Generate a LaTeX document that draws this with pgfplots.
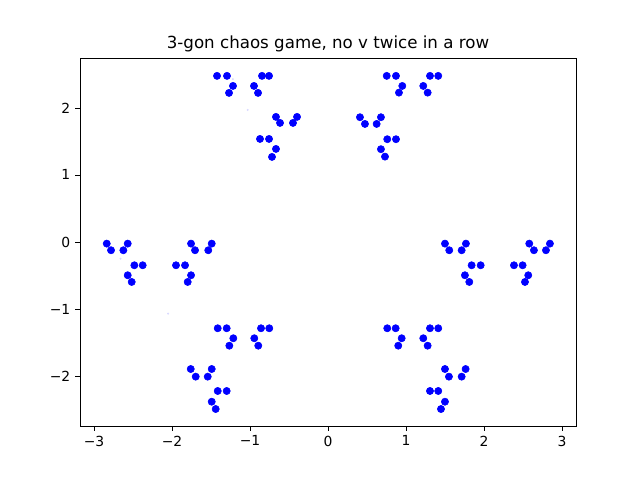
\documentclass[border=0pt]{standalone}
\usepackage{pgfplots}
\pgfplotsset{compat=1.18}
\usepackage{fontspec}
\setmainfont{DejaVu Sans}
\begin{document}
\begin{tikzpicture}
\useasboundingbox (-57.6pt,-38.9pt) rectangle (403.2pt,306.7pt);
\begin{axis}[
  at={(0,0)}, anchor=south west, scale only axis,
  width=357.1pt, height=265pt,
  xmin=-3.18, xmax=3.18, ymin=-2.746, ymax=2.746,
  xtick={-3,-2,-1,0,1,2,3}, ytick={-2,-1,0,1,2},
  xticklabels={−3,−2,−1,0,1,2,3}, yticklabels={−2,−1,0,1,2},
  tick align=outside, tick style={black}, major tick length=3.5pt,
  xtick pos=bottom, ytick pos=left,
  ticklabel style={font=\fontsize{10}{12}\selectfont},
  title={3-gon chaos game, no v twice in a row},
  title style={font=\fontsize{12}{14}\selectfont, yshift=-5pt},
]
\addplot[only marks, mark=*, mark size=2.6pt, color=blue] coordinates {
(-1.423,2.478)(-1.295,2.478)(-1.218,2.328)(-1.269,2.224)
(-0.846,2.478)(-0.756,2.478)(-0.949,2.328)(-0.897,2.224)
(-0.667,1.866)(-0.615,1.776)(-0.397,1.866)(-0.449,1.776)
(-0.872,1.537)(-0.756,1.537)(-0.667,1.388)(-0.718,1.269)
(0.753,2.478)(0.872,2.478)(0.953,2.328)(0.910,2.228)
(1.308,2.478)(1.414,2.478)(1.222,2.328)(1.278,2.228)
(0.410,1.861)(0.474,1.761)(0.679,1.861)(0.624,1.761)
(0.760,1.533)(0.872,1.533)(0.679,1.384)(0.731,1.273)
(-2.837,-0.025)(-2.782,-0.124)(-2.568,-0.025)(-2.624,-0.124)
(-2.483,-0.348)(-2.376,-0.348)(-2.568,-0.497)(-2.517,-0.597)
(-1.756,-0.025)(-1.491,-0.025)(-1.705,-0.124)(-1.535,-0.124)
(-1.949,-0.348)(-1.833,-0.348)(-1.756,-0.497)(-1.799,-0.597)
(1.500,-0.025)(1.555,-0.124)(1.769,-0.025)(1.714,-0.124)
(1.842,-0.348)(1.958,-0.348)(1.756,-0.497)(1.812,-0.597)
(2.581,-0.025)(2.641,-0.124)(2.846,-0.025)(2.795,-0.124)
(2.385,-0.348)(2.496,-0.348)(2.568,-0.497)(2.526,-0.597)
(-1.414,-1.288)(-1.299,-1.288)(-1.214,-1.437)(-1.265,-1.548)
(-0.859,-1.288)(-0.753,-1.288)(-0.945,-1.437)(-0.894,-1.548)
(-1.760,-1.896)(-1.696,-2.010)(-1.491,-1.896)(-1.542,-2.010)
(-1.414,-2.224)(-1.299,-2.224)(-1.491,-2.384)(-1.440,-2.493)
(0.760,-1.288)(0.868,-1.288)(0.945,-1.437)(0.901,-1.548)
(1.308,-1.288)(1.414,-1.288)(1.222,-1.437)(1.278,-1.548)
(1.500,-1.896)(1.551,-2.010)(1.765,-1.896)(1.714,-2.010)
(1.308,-2.224)(1.414,-2.224)(1.500,-2.384)(1.449,-2.493)
};
\addplot[only marks, mark=*, mark size=0.5pt, color=blue!15] coordinates {
(-1.03,1.97)(-2.05,-1.07)(-2.66,-0.25)(-1.22,2.43)
};
\end{axis}
\end{tikzpicture}
\end{document}
